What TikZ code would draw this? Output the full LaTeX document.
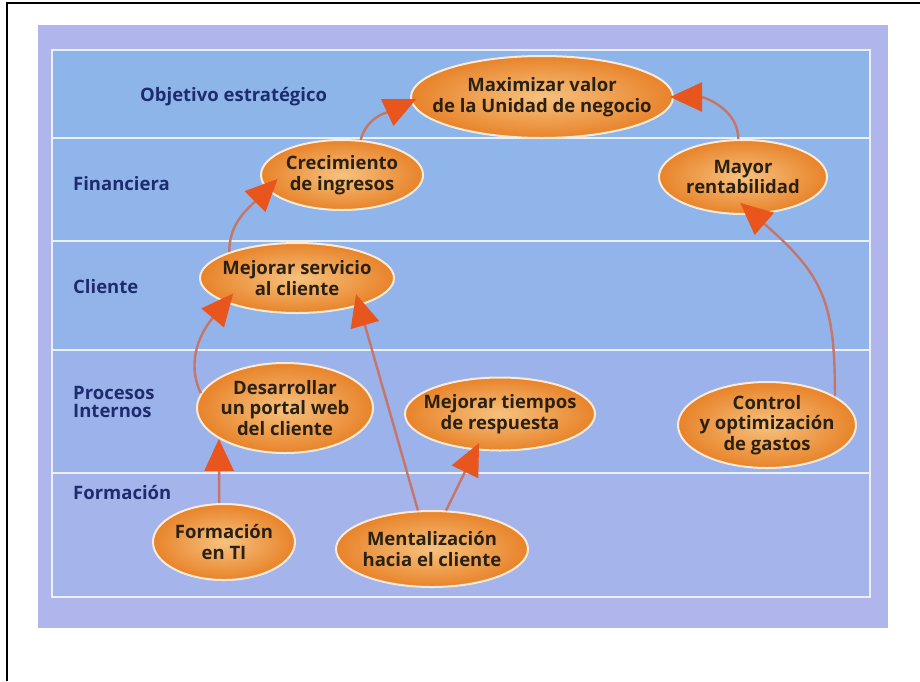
\documentclass[tikz,border=0pt]{standalone}
\usepackage{fontspec}
\setmainfont{Open Sans}
\usetikzlibrary{shapes.geometric,arrows.meta}

\definecolor{panel}{HTML}{B0B5EC}
\definecolor{bandA}{HTML}{8DB5EA}
\definecolor{bandB}{HTML}{90B5EA}
\definecolor{bandC}{HTML}{93B4EA}
\definecolor{bandD}{HTML}{9BB3EA}
\definecolor{bandE}{HTML}{A6B4EC}
\definecolor{gridc}{HTML}{EAF0FC}
\definecolor{navy}{HTML}{1E2C6E}
\definecolor{goalin}{HTML}{F6C27E}
\definecolor{goalout}{HTML}{E8832A}
\definecolor{goalrim}{HTML}{FBEBD6}
\definecolor{goaltext}{HTML}{2B2112}
\definecolor{linec}{HTML}{C57668}
\definecolor{headc}{HTML}{E8561E}

\tikzset{
  gridline/.style={draw=gridc, line width=2.4pt},
  rowlabel/.style={anchor=west, align=left, text=navy,
    font=\bfseries\fontsize{18.5}{17}\selectfont, inner sep=0pt},
  goal/.style={ellipse, inner sep=0pt, draw=goalrim, line width=2pt,
    inner color=goalin, outer color=goalout},
  goaltxt/.style={align=center, text=goaltext, inner sep=0pt,
    font=\bfseries\fontsize{18.5}{20.5}\selectfont},
  conn/.style={draw=linec, line width=2.4pt,
    -{Triangle[length=32pt,width=29pt,color=headc]}}
}

\begin{document}
\begin{tikzpicture}[x=1pt,y=-1pt]
\useasboundingbox (0,0) rectangle (920,681);
\fill[white] (0,0) rectangle (920,681);

% outer frame (left and top edges)
\draw[line width=2.6pt] (7,681) -- (7,3) -- (920,3);

% coloured panel and its five bands
\fill[panel] (38,25) rectangle (888,628);
\fill[bandA] (52,50)  rectangle (870,138);
\fill[bandB] (52,138) rectangle (870,241);
\fill[bandC] (52,241) rectangle (870,350);
\fill[bandD] (52,350) rectangle (870,473);
\fill[bandE] (52,473) rectangle (870,597);
\draw[gridline] (52,50) rectangle (870,597);
\foreach \yy in {138,241,350,473} \draw[gridline] (52,\yy) -- (870,\yy);

% row titles
\node[rowlabel] (lobj) at (140,97)  {Objetivo estratégico};
\node[rowlabel] (lfin) at (73,184)  {Financiera};
\node[rowlabel] (lcli) at (73,287)  {Cliente};
\node[rowlabel, font=\bfseries\fontsize{18.5}{18}\selectfont] (lpro) at (73,402) {Procesos\\Internos};
\node[rowlabel] (lfor) at (73,492)  {Formación};

% objectives
\node[goal, minimum width=262pt, minimum height=82pt] (max)   at (542,97)  {};
\node[goal, minimum width=162pt, minimum height=70pt] (crec)  at (342,175) {};
\node[goal, minimum width=168pt, minimum height=74pt] (mayor) at (743,177) {};
\node[goal, minimum width=194pt, minimum height=70pt] (mej)   at (297,278) {};
\node[goal, minimum width=176pt, minimum height=90pt] (des)   at (285,408) {};
\node[goal, minimum width=190pt, minimum height=73pt] (tiem)  at (500,414) {};
\node[goal, minimum width=178pt, minimum height=86pt] (ctrl)  at (767,425) {};
\node[goal, minimum width=142pt, minimum height=76pt] (fti)   at (224,542) {};
\node[goal, minimum width=192pt, minimum height=76pt] (ment)  at (432,549) {};

\node[goaltxt] (maxt)   at (max)   {Maximizar valor\\de la Unidad de negocio};
\node[goaltxt] (crect)  at (crec)  {Crecimiento\\de ingresos};
\node[goaltxt] (mayort) at (mayor) {Mayor\\rentabilidad};
\node[goaltxt] (mejt)   at (mej)   {Mejorar servicio\\al cliente};
\node[goaltxt] (dest)   at (des)   {Desarrollar\\un portal web\\del cliente};
\node[goaltxt] (tiemt)  at (tiem)  {Mejorar tiempos\\de respuesta};
\node[goaltxt] (ctrlt)  at (ctrl)  {Control\\y optimización\\de gastos};
\node[goaltxt] (ftit)   at (fti)   {Formación\\en TI};
\node[goaltxt] (mentt)  at (ment)  {Mentalización\\hacia el cliente};

% cause-and-effect links
\draw[conn, shorten >=-6pt]  (crec.62)  to[out=75,in=205] (max.182);
\draw[conn, shorten >=-4pt]  (mayor.97) to[out=90,in=0]   (max.east);
\draw[conn, shorten >=-15pt] (mej.159)  to[out=90,in=225] (crec.191);
\draw[conn, shorten >=-12pt] (des.170)  to[out=115,in=230] (mej.199);
\draw[conn]                  (fti.97)   --                (des.205);
\draw[conn, shorten >=-12pt] (ment.110) --                (mej.336);
\draw[conn, shorten >=-8pt]  (ment.70)  --                (tiem.236);
\draw[conn, shorten >=-18pt] (ctrl.23)  to[out=90,in=-41,looseness=1.2] (mayor.286);
\end{tikzpicture}
\end{document}
